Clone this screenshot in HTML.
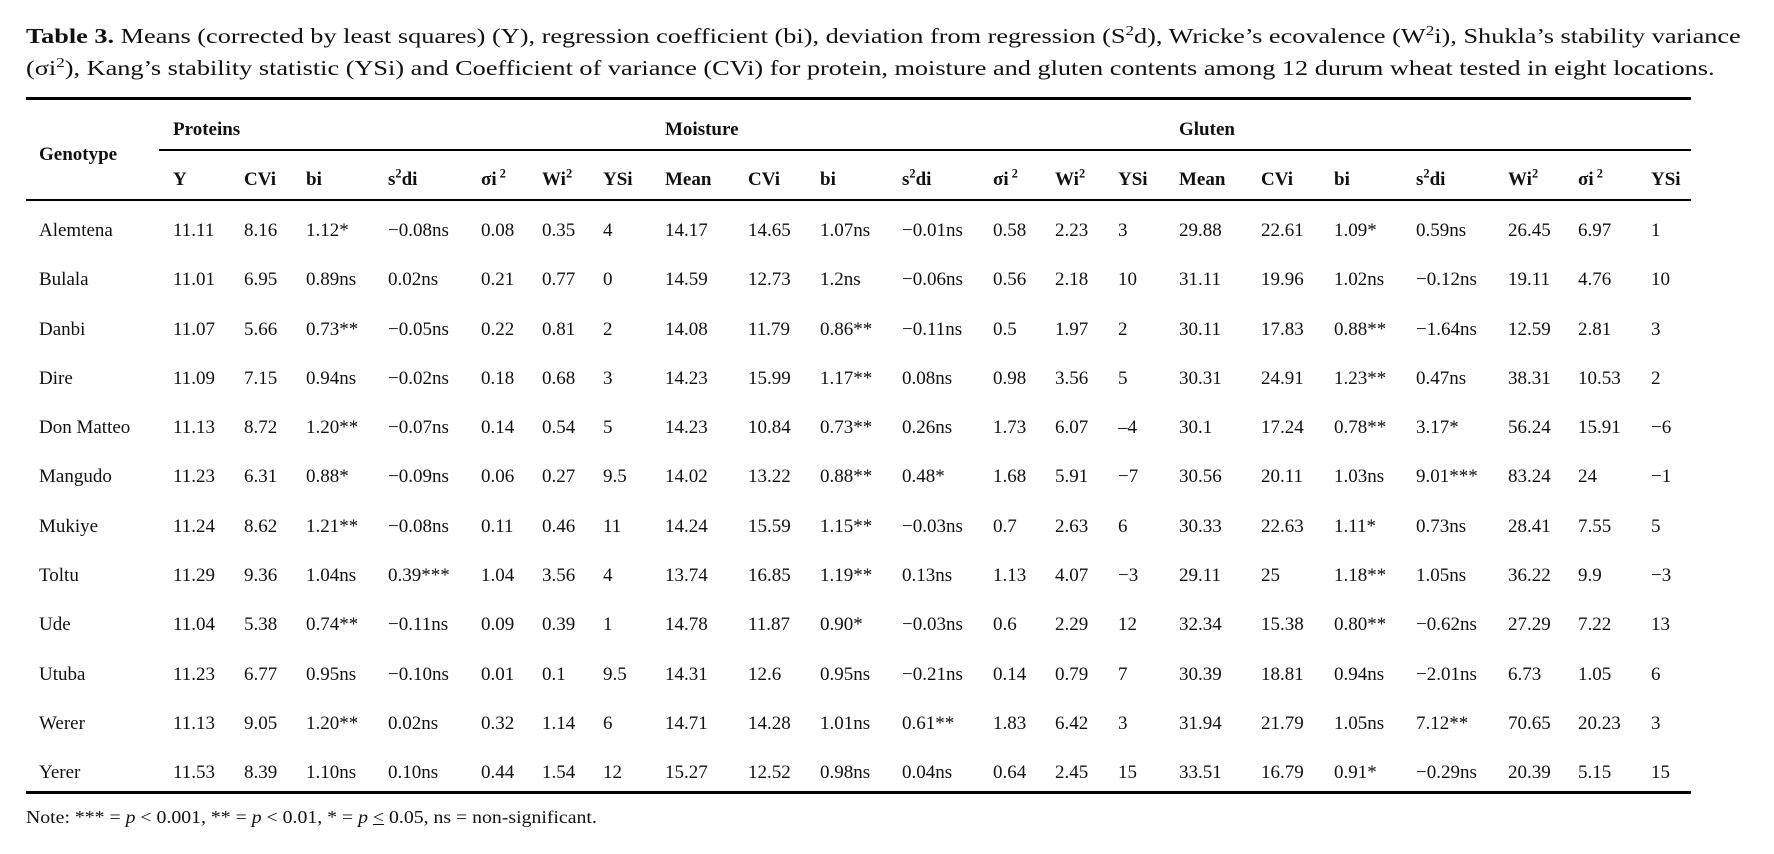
<!DOCTYPE html>
<html><head><meta charset="utf-8"><style>
body{margin:0;width:1774px;height:854px;background:#fff;position:relative;overflow:hidden;font-family:"Liberation Serif","DejaVu Serif",serif;color:#111}
.t{position:absolute;left:26px;font-size:21.5px;line-height:32px;white-space:nowrap;transform:scaleX(1.222);transform-origin:0 0}
.rule{position:absolute;background:#000}
.r{position:absolute;left:0;width:1774px;height:24px;line-height:24px;font-size:19px}
.r span{position:absolute;white-space:nowrap}
.h{font-weight:bold}
.r span:nth-child(1){left:39px}.r span:nth-child(2){left:173px}.r span:nth-child(3){left:244px}
.r span:nth-child(4){left:306px}.r span:nth-child(5){left:388px}.r span:nth-child(6){left:481px}
.r span:nth-child(7){left:542px}.r span:nth-child(8){left:603px}.r span:nth-child(9){left:665px}
.r span:nth-child(10){left:748px}.r span:nth-child(11){left:820px}.r span:nth-child(12){left:902px}
.r span:nth-child(13){left:993px}.r span:nth-child(14){left:1055px}.r span:nth-child(15){left:1118px}
.r span:nth-child(16){left:1179px}.r span:nth-child(17){left:1261px}.r span:nth-child(18){left:1334px}
.r span:nth-child(19){left:1416px}.r span:nth-child(20){left:1508px}.r span:nth-child(21){left:1578px}
.r span:nth-child(22){left:1651px}
sup{font-size:65%;line-height:0}
.g{position:absolute;font-weight:bold;font-size:19px;line-height:24px}
.note{position:absolute;left:26px;top:805px;font-size:17.5px;line-height:24px;white-space:nowrap;transform:scaleX(1.13);transform-origin:0 0}
</style></head><body>
<div class="t" style="top:20px"><b>Table 3.</b> Means (corrected by least squares) (Y), regression coefficient (bi), deviation from regression (S<sup>2</sup>d), Wricke’s ecovalence (W<sup>2</sup>i), Shukla’s stability variance</div>
<div class="t" style="top:52px">(σi<sup>2</sup>), Kang’s stability statistic (YSi) and Coefficient of variance (CVi) for protein, moisture and gluten contents among 12 durum wheat tested in eight locations.</div>
<div class="rule" style="left:26px;top:97px;width:1665px;height:3px"></div>
<div class="g" style="left:39px;top:143px">Genotype</div>
<div class="g" style="left:173px;top:118px">Proteins</div>
<div class="g" style="left:665px;top:118px">Moisture</div>
<div class="g" style="left:1179px;top:118px">Gluten</div>
<div class="rule" style="left:159px;top:149px;width:1532px;height:2px"></div>
<div class="r h" style="top:168px"><span style="visibility:hidden">.</span><span>Y</span><span>CVi</span><span>bi</span><span>s<sup>2</sup>di</span><span>σi<sup> 2</sup></span><span>Wi<sup>2</sup></span><span>YSi</span><span>Mean</span><span>CVi</span><span>bi</span><span>s<sup>2</sup>di</span><span>σi<sup> 2</sup></span><span>Wi<sup>2</sup></span><span>YSi</span><span>Mean</span><span>CVi</span><span>bi</span><span>s<sup>2</sup>di</span><span>Wi<sup>2</sup></span><span>σi<sup> 2</sup></span><span>YSi</span></div>
<div class="rule" style="left:26px;top:199px;width:1665px;height:1.5px"></div>
<div class="r" style="top:219px"><span>Alemtena</span><span>11.11</span><span>8.16</span><span>1.12*</span><span>−0.08ns</span><span>0.08</span><span>0.35</span><span>4</span><span>14.17</span><span>14.65</span><span>1.07ns</span><span>−0.01ns</span><span>0.58</span><span>2.23</span><span>3</span><span>29.88</span><span>22.61</span><span>1.09*</span><span>0.59ns</span><span>26.45</span><span>6.97</span><span>1</span></div>
<div class="r" style="top:268px"><span>Bulala</span><span>11.01</span><span>6.95</span><span>0.89ns</span><span>0.02ns</span><span>0.21</span><span>0.77</span><span>0</span><span>14.59</span><span>12.73</span><span>1.2ns</span><span>−0.06ns</span><span>0.56</span><span>2.18</span><span>10</span><span>31.11</span><span>19.96</span><span>1.02ns</span><span>−0.12ns</span><span>19.11</span><span>4.76</span><span>10</span></div>
<div class="r" style="top:318px"><span>Danbi</span><span>11.07</span><span>5.66</span><span>0.73**</span><span>−0.05ns</span><span>0.22</span><span>0.81</span><span>2</span><span>14.08</span><span>11.79</span><span>0.86**</span><span>−0.11ns</span><span>0.5</span><span>1.97</span><span>2</span><span>30.11</span><span>17.83</span><span>0.88**</span><span>−1.64ns</span><span>12.59</span><span>2.81</span><span>3</span></div>
<div class="r" style="top:367px"><span>Dire</span><span>11.09</span><span>7.15</span><span>0.94ns</span><span>−0.02ns</span><span>0.18</span><span>0.68</span><span>3</span><span>14.23</span><span>15.99</span><span>1.17**</span><span>0.08ns</span><span>0.98</span><span>3.56</span><span>5</span><span>30.31</span><span>24.91</span><span>1.23**</span><span>0.47ns</span><span>38.31</span><span>10.53</span><span>2</span></div>
<div class="r" style="top:416px"><span>Don Matteo</span><span>11.13</span><span>8.72</span><span>1.20**</span><span>−0.07ns</span><span>0.14</span><span>0.54</span><span>5</span><span>14.23</span><span>10.84</span><span>0.73**</span><span>0.26ns</span><span>1.73</span><span>6.07</span><span>–4</span><span>30.1</span><span>17.24</span><span>0.78**</span><span>3.17*</span><span>56.24</span><span>15.91</span><span>−6</span></div>
<div class="r" style="top:465px"><span>Mangudo</span><span>11.23</span><span>6.31</span><span>0.88*</span><span>−0.09ns</span><span>0.06</span><span>0.27</span><span>9.5</span><span>14.02</span><span>13.22</span><span>0.88**</span><span>0.48*</span><span>1.68</span><span>5.91</span><span>−7</span><span>30.56</span><span>20.11</span><span>1.03ns</span><span>9.01***</span><span>83.24</span><span>24</span><span>−1</span></div>
<div class="r" style="top:515px"><span>Mukiye</span><span>11.24</span><span>8.62</span><span>1.21**</span><span>−0.08ns</span><span>0.11</span><span>0.46</span><span>11</span><span>14.24</span><span>15.59</span><span>1.15**</span><span>−0.03ns</span><span>0.7</span><span>2.63</span><span>6</span><span>30.33</span><span>22.63</span><span>1.11*</span><span>0.73ns</span><span>28.41</span><span>7.55</span><span>5</span></div>
<div class="r" style="top:564px"><span>Toltu</span><span>11.29</span><span>9.36</span><span>1.04ns</span><span>0.39***</span><span>1.04</span><span>3.56</span><span>4</span><span>13.74</span><span>16.85</span><span>1.19**</span><span>0.13ns</span><span>1.13</span><span>4.07</span><span>−3</span><span>29.11</span><span>25</span><span>1.18**</span><span>1.05ns</span><span>36.22</span><span>9.9</span><span>−3</span></div>
<div class="r" style="top:613px"><span>Ude</span><span>11.04</span><span>5.38</span><span>0.74**</span><span>−0.11ns</span><span>0.09</span><span>0.39</span><span>1</span><span>14.78</span><span>11.87</span><span>0.90*</span><span>−0.03ns</span><span>0.6</span><span>2.29</span><span>12</span><span>32.34</span><span>15.38</span><span>0.80**</span><span>−0.62ns</span><span>27.29</span><span>7.22</span><span>13</span></div>
<div class="r" style="top:663px"><span>Utuba</span><span>11.23</span><span>6.77</span><span>0.95ns</span><span>−0.10ns</span><span>0.01</span><span>0.1</span><span>9.5</span><span>14.31</span><span>12.6</span><span>0.95ns</span><span>−0.21ns</span><span>0.14</span><span>0.79</span><span>7</span><span>30.39</span><span>18.81</span><span>0.94ns</span><span>−2.01ns</span><span>6.73</span><span>1.05</span><span>6</span></div>
<div class="r" style="top:712px"><span>Werer</span><span>11.13</span><span>9.05</span><span>1.20**</span><span>0.02ns</span><span>0.32</span><span>1.14</span><span>6</span><span>14.71</span><span>14.28</span><span>1.01ns</span><span>0.61**</span><span>1.83</span><span>6.42</span><span>3</span><span>31.94</span><span>21.79</span><span>1.05ns</span><span>7.12**</span><span>70.65</span><span>20.23</span><span>3</span></div>
<div class="r" style="top:761px"><span>Yerer</span><span>11.53</span><span>8.39</span><span>1.10ns</span><span>0.10ns</span><span>0.44</span><span>1.54</span><span>12</span><span>15.27</span><span>12.52</span><span>0.98ns</span><span>0.04ns</span><span>0.64</span><span>2.45</span><span>15</span><span>33.51</span><span>16.79</span><span>0.91*</span><span>−0.29ns</span><span>20.39</span><span>5.15</span><span>15</span></div>
<div class="rule" style="left:26px;top:791px;width:1665px;height:3px"></div>
<div class="note">Note: *** = <i>p</i> &lt; 0.001, ** = <i>p</i> &lt; 0.01, * = <i>p</i> <u>&lt;</u> 0.05, ns = non-significant.</div>
</body></html>
